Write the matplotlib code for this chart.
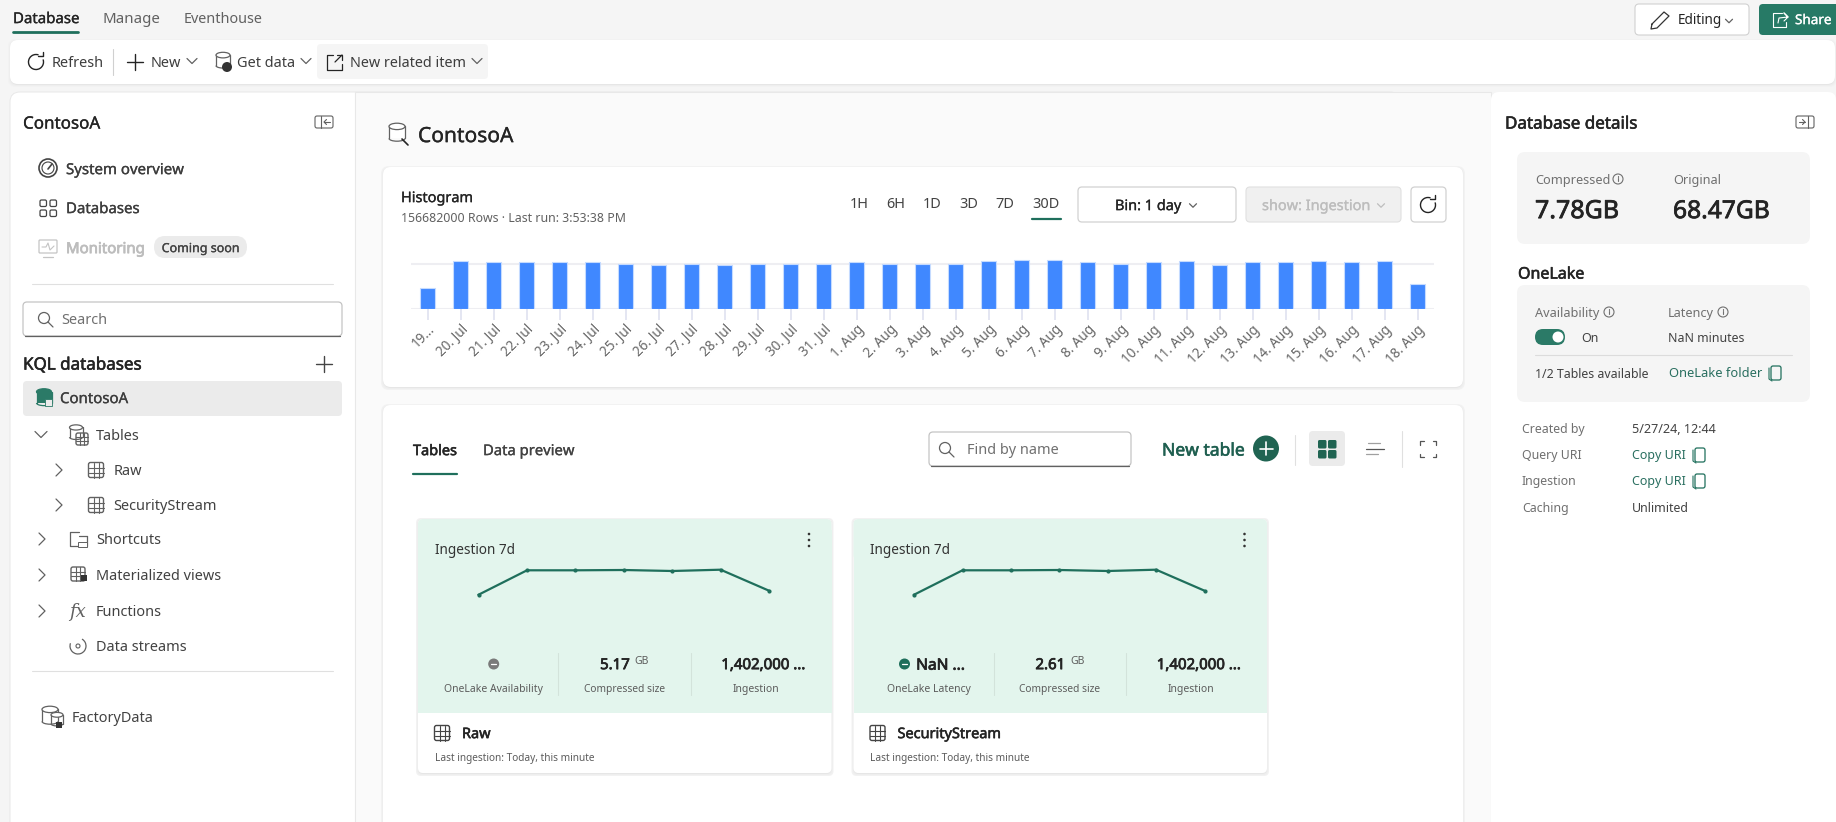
import matplotlib
matplotlib.use("Agg")
import matplotlib.pyplot as plt
import matplotlib.patheffects as pe
from matplotlib.patches import FancyBboxPatch, Circle, Rectangle, Ellipse, Arc

W, H = 1836, 822
FONT = "Noto Sans"
plt.rcParams["font.family"] = [FONT, "DejaVu Sans"]

# ---- data ----
hist_labels = ["19...", "20. Jul", "21. Jul", "22. Jul", "23. Jul", "24. Jul", "25. Jul", "26. Jul",
               "27. Jul", "28. Jul", "29. Jul", "30. Jul", "31. Jul", "1. Aug", "2. Aug", "3. Aug",
               "4. Aug", "5. Aug", "6. Aug", "7. Aug", "8. Aug", "9. Aug", "10. Aug", "11. Aug",
               "12. Aug", "13. Aug", "14. Aug", "15. Aug", "16. Aug", "17. Aug", "18. Aug"]
hist_values = [2.37, 5.3, 5.18, 5.18, 5.18, 5.18, 5.04, 4.93, 5.04, 4.93, 5.04, 5.04, 5.04, 5.18, 5.04, 5.04,
               5.04, 5.3, 5.4, 5.4, 5.18, 5.04, 5.18, 5.3, 4.93, 5.18, 5.18, 5.3, 5.18, 5.3, 2.74]
hist_gridlines = [0, 5]
ingestion_days = [0, 1, 2, 3, 4, 5, 6]
ingestion_raw = [5.3, 29.7, 29.7, 30.0, 29.0, 30.3, 9.3]
ingestion_stream = [5.3, 29.7, 29.7, 30.0, 29.0, 30.3, 9.3]
time_ranges = ["1H", "6H", "1D", "3D", "7D", "30D"]

GREEN = "#1f6f5c"
DARK = "#242424"
MID = "#616161"
GREY = "#707070"
STROKE = {"medium": 0.2, "semibold": 0.4, "bold": 0.55}

fig = plt.figure(figsize=(W / 100, H / 100), dpi=100, facecolor="#f5f5f5")
ui = fig.add_axes([0, 0, 1, 1])
ui.set_xlim(0, W)
ui.set_ylim(H, 0)
ui.axis("off")


def px_axes(x0, y0, x1, y1):
    ax = fig.add_axes([x0 / W, 1 - y1 / H, (x1 - x0) / W, (y1 - y0) / H])
    ax.patch.set_alpha(0)
    return ax


def T(x, y, s, px=15, c=DARK, w="normal", ha="left", **kw):
    t = ui.text(x, y + 1.6, s, fontsize=px * 0.72, color=c, ha=ha, va="center", **kw)
    if w in STROKE:
        t.set_path_effects([pe.withStroke(linewidth=STROKE[w], foreground=c)])
    return t


def box(x0, y0, x1, y1, r=4, fc="white", ec="none", lw=0, z=1):
    p = FancyBboxPatch((x0 + r, y0 + r), x1 - x0 - 2 * r, y1 - y0 - 2 * r,
                       boxstyle=f"round,pad={r},rounding_size={r}", fc=fc, ec=ec, lw=lw, zorder=z)
    ui.add_patch(p)
    return p


def card(x0, y0, x1, y1, r=6, z=1):
    for d, col in ((3, "#f2f2f2"), (2, "#eeeeee"), (1, "#e6e6e6")):
        box(x0 - d + 1, y0 - d + 2, x1 + d - 1, y1 + d, r=r, fc=col, z=z)
    box(x0, y0, x1, y1, r=r, z=z + 0.1)


def L(xs, ys, c=DARK, lw=1.0, z=5, **kw):
    ui.plot(xs, ys, color=c, lw=lw, zorder=z, solid_capstyle="round", **kw)


def chev(x, y, d="down", s=5, c=MID, lw=0.9):
    if d == "down":
        L([x - s, x, x + s], [y - s / 2, y + s / 2, y - s / 2], c, lw)
    else:
        L([x - s / 2, x + s / 2, x - s / 2], [y - s, y, y + s], c, lw)


def grid_icon(x, y, s=8, c=MID):
    box(x - s, y - s, x + s, y + s, r=2, fc="none", ec=c, lw=1, z=5)
    for f in (-1 / 3, 1 / 3):
        L([x - s, x + s], [y + f * s, y + f * s], c, 0.8)
        L([x + f * s, x + f * s], [y - s, y + s], c, 0.8)


def info(x, y, c=GREY):
    ui.add_patch(Circle((x, y), 5, fc="none", ec=c, lw=0.8, zorder=5))
    L([x, x], [y - 0.5, y + 2.5], c, 0.8)
    L([x, x], [y - 2.5, y - 2.3], c, 0.8)


def copy_icon(x, y, c=GREEN):
    box(x - 4, y - 7, x + 6, y + 7, r=2, fc="none", ec=c, lw=0.9, z=5)
    L([x - 6, x - 6, x - 3], [y - 5, y + 6, y + 8], c, 0.8)


def db(x, y, s=8, fc="none", ec=MID):
    bg = "white" if fc == "none" else fc
    ui.add_patch(Rectangle((x - s, y - s * 0.7), 2 * s, 1.5 * s, fc=bg, ec="none", zorder=4.9))
    L([x - s, x - s], [y - s * 0.7, y + s * 0.8], ec, 0.9)
    L([x + s, x + s], [y - s * 0.7, y + s * 0.8], ec, 0.9)
    ui.add_patch(Arc((x, y + s * 0.8), 2 * s, s * 0.7, theta1=0, theta2=180, ec=ec, lw=0.9, zorder=5))
    ui.add_patch(Ellipse((x, y - s * 0.7), 2 * s, s * 0.8, fc=bg, ec=ec, lw=0.9, zorder=6))


def plus(x, y, s=8, c=DARK, lw=1.0):
    L([x - s, x + s], [y, y], c, lw)
    L([x, x], [y - s, y + s], c, lw)


def search(x, y, c=MID):
    ui.add_patch(Circle((x - 1, y - 1), 5.5, fc="none", ec=c, lw=0.9, zorder=5))
    L([x + 3, x + 8], [y + 3, y + 8], c, 0.9)


def refresh(x, y, c=DARK):
    ui.add_patch(Arc((x, y), 15, 15, theta1=-20, theta2=290, ec=c, lw=1.0, zorder=5))
    L([x + 1.5, x + 6.5, x + 6.5], [y - 5.5, y - 5.5, y - 10], c, 1.0)


def panel_icon(x0, y0, x1, y1, bar, a0, a1):
    box(x0, y0, x1, y1, r=2, fc="none", ec=MID, lw=0.8, z=5)
    L([bar, bar], [y0, y1], MID, 0.8)
    ym = (y0 + y1) / 2
    sgn = 1 if a1 > a0 else -1
    L([a0, a1], [ym, ym], MID, 0.8)
    L([a1 - sgn * 2.5, a1, a1 - sgn * 2.5], [ym - 2.5, ym, ym + 2.5], MID, 0.8)


# ---- top tabs ----
T(13, 18, "Database", 15, DARK, "medium")
L([13, 78], [32, 32], GREEN, 2)
T(103, 18, "Manage", 15, MID)
T(184, 18, "Eventhouse", 14.4, MID)
box(1635, 4, 1749, 35, r=4, fc="white", ec="#d1d1d1", lw=0.8)
L([1652, 1664, 1669, 1657, 1651, 1652], [24, 12, 16, 28, 29, 24], "#333333", 0.9)
T(1678, 19, "Editing", 13.5, DARK)
chev(1729, 21, s=3.5)
box(1759, 4, 1840, 35, r=4, fc="#277a66")
L([1782, 1773, 1773, 1786, 1786], [13, 13, 27, 27, 22], "white", 0.8)
L([1778, 1779, 1788, 1784, 1788, 1784], [23, 18, 17, 13, 17, 21], "white", 0.8)
T(1795, 19, "Share", 13.5, "white", "medium")

# ---- toolbar ----
card(10, 40, 1835, 84, r=8)
refresh(36, 62)
T(52, 62, "Refresh", 14.5, "#3d3d3d")
L([113, 113], [49, 75], "#d0d0d0", 0.8)
plus(135, 62, 8)
T(151, 62, "New", 14.5, "#3d3d3d")
chev(192, 61)
db(223, 60, 7)
ui.add_patch(Circle((227, 67), 5, fc="#333333", zorder=7))
T(237, 62, "Get data", 14.5, "#3d3d3d")
chev(306, 61)
box(317, 44, 488, 79, r=4, fc="#f5f5f5", z=2)
L([333, 327, 327, 342, 342], [55, 55, 70, 70, 64], DARK, 0.9)
L([335, 342], [62, 55], DARK, 0.9)
L([337, 342, 342], [55, 55, 60], DARK, 0.9)
T(350, 62, "New related item", 14.4, "#3d3d3d", zorder=5)
chev(477, 61)

# ---- panels ----
box(10, 92, 1400, 840, r=10, fc="white", ec="#e8e8e8", lw=0.7)
ui.add_patch(Rectangle((355, 92), 1136, 740, fc="#fafafa", ec="#e8e8e8", lw=0.8, zorder=1.5))

# ---- left panel ----
T(23, 123, "ContosoA", 17, DARK, "medium")
panel_icon(315, 116, 333, 128, 321, 330, 324)
ui.add_patch(Circle((48, 168), 9, fc="none", ec="#444444", lw=1.2, zorder=5))
ui.add_patch(Circle((48, 168), 6, fc="none", ec="#444444", lw=0.8, zorder=5))
L([48, 52], [169, 164], "#444444", 1.2)
T(66, 169, "System overview", 15, "#3d3d3d", "medium")
for dx, dy in ((40, 200), (50, 200), (40, 210), (50, 210)):
    box(dx, dy, dx + 6.5, dy + 6.5, r=1.5, fc="none", ec="#444444", lw=0.9, z=5)
T(66, 208, "Databases", 15, "#3d3d3d", "medium")
box(39, 240, 57, 253, r=1, fc="none", ec="#c4c4c4", lw=0.9, z=5)
L([42, 46, 48, 50, 54], [247, 247, 243, 250, 246], "#c4c4c4", 0.8)
L([43, 53], [257, 257], "#c4c4c4", 0.9)
T(66, 248, "Monitoring", 15, "#bdbdbd", "bold")
box(154, 236, 247, 258, r=11, fc="#ebebeb")
T(200.5, 247, "Coming soon", 12.5, "#424242", "medium", ha="center", zorder=5)
L([32, 333], [284, 284], "#e0e0e0", 0.8)
box(23, 302, 342, 336, r=4, fc="white", ec="#c4c4c4", lw=0.9, z=3)
L([25, 340], [336, 336], "#616161", 0.9)
search(45, 319)
T(61, 319, "Search", 14.5, GREY, zorder=5)
T(23, 364, "KQL databases", 17, DARK, "semibold")
plus(324, 364, 8, "#444444")
box(23, 381, 342, 416, r=4, fc="#ebebeb", z=2)
db(44, 397, 7.5, fc="#2b7a67", ec="#2b7a67")
ui.add_patch(Rectangle((45, 399), 7, 7, fc="#ebebeb", ec="#2b7a67", lw=0.6, zorder=7))
T(60, 398, "ContosoA", 15, "#3d3d3d", "medium", zorder=5)

chev(41, 434.5, s=6)
db(76, 432, 6.5)
grid_icon(82, 439, 6)
T(96, 435, "Tables", 14.5, "#424242")
chev(59, 470, "right", 6)
grid_icon(96, 470, 7.5)
T(114, 470, "Raw", 14.5, "#424242")
chev(59, 505, "right", 6)
grid_icon(96, 505, 7.5)
T(113, 505, "SecurityStream", 14.5, "#424242")
chev(42, 539, "right", 6)
L([79, 70, 70, 87, 87], [532, 532, 546, 546, 536], MID, 0.9)
L([79, 87], [536, 536], MID, 0.9)
ui.add_patch(Rectangle((78, 542), 9, 5, fc="white", ec=MID, lw=0.7, zorder=6))
T(96, 539, "Shortcuts", 14.5, "#424242")
chev(42, 575, "right", 6)
grid_icon(78, 574, 7)
ui.add_patch(Rectangle((81, 575), 6, 6, fc="#333333", zorder=6))
T(96, 575, "Materialized views", 14.5, "#424242")
chev(42, 611, "right", 6)
ui.text(77, 612, "fx", fontsize=13, style="italic", color=MID, ha="center", va="center", family="DejaVu Serif")
T(96, 611, "Functions", 14.5, "#424242")
ui.add_patch(Arc((78, 646), 16, 16, theta1=-60, theta2=200, ec=MID, lw=0.9, zorder=5))
ui.add_patch(Circle((78, 646), 2, fc="none", ec=MID, lw=0.8, zorder=5))
T(96, 646, "Data streams", 14.5, "#424242")
L([32, 333], [671, 671], "#e0e0e0", 0.8)
db(50, 715, 8)
db(57, 719, 6)
ui.add_patch(Rectangle((56, 722), 6, 6, fc="#333333", zorder=7))
T(72, 717, "FactoryData", 14.5, "#424242")

# ---- centre ----
db(397, 132, 8)
L([402, 408], [139, 145], DARK, 1.2)
T(418, 135, "ContosoA", 21, DARK, "medium", zorder=5)

card(383, 167, 1463, 387, r=8, z=2)
T(401, 197, "Histogram", 14.5, DARK, "medium", zorder=5)
T(401, 217, "156682000 Rows · Last run: 3:53:38 PM", 12.3, MID, zorder=5)
for cx, s in zip([859, 896, 932, 969, 1005, 1046], time_ranges):
    T(cx, 203, s, 14.5, "#424242", ha="center", zorder=5)
L([1032, 1061], [219.5, 219.5], GREEN, 1.6)
box(1078, 187, 1236, 222, r=4, fc="white", ec="#d1d1d1", lw=0.9, z=3)
T(1148, 205, "Bin: 1 day", 14.5, DARK, "medium", ha="center", zorder=5)
chev(1193, 205.5, s=3.5)
box(1246, 187, 1401, 222, r=4, fc="#f0f0f0", ec="#e0e0e0", lw=0.8, z=3)
T(1316, 205, "show: Ingestion", 14.5, "#bdbdbd", "medium", ha="center", zorder=5)
chev(1381, 205.5, s=3.5, c="#bdbdbd")
box(1411, 187, 1446, 222, r=4, fc="white", ec="#d1d1d1", lw=0.9, z=3)
refresh(1428, 205)

hist = px_axes(411, 255, 1434, 309)
hist.bar(range(len(hist_values)), hist_values, width=0.47, color="#4088ff", edgecolor="#c5dbff", linewidth=0.8, zorder=3)
hist.set_xlim(-0.5, len(hist_values) - 0.5)
hist.set_ylim(0, 6)
hist.set_yticks(hist_gridlines)
hist.set_yticklabels([])
hist.tick_params(axis="y", length=0)
hist.grid(axis="y", color="#eeeef2", lw=1.5, zorder=0)
hist.set_axisbelow(True)
hist.set_xticks(range(len(hist_labels)))
hist.set_xticklabels(hist_labels, rotation=45, ha="right", rotation_mode="anchor", fontsize=13.5 * 0.72, color="#666666")
hist.tick_params(axis="x", length=8, width=1.4, color="#e4e6f2", pad=1.5)
for sp in hist.spines.values():
    sp.set_visible(False)

card(383, 405, 1463, 840, r=8, z=2)
T(413, 450, "Tables", 14.5, DARK, "semibold", zorder=5)
L([413, 457], [473.5, 473.5], GREEN, 1.6)
T(483, 450, "Data preview", 14.8, "#424242", "medium", zorder=5)
box(929, 432, 1131, 466, r=4, fc="white", ec="#c4c4c4", lw=0.9, z=3)
L([931, 1129], [466, 466], "#616161", 0.9)
search(946, 449)
T(967, 449, "Find by name", 14.5, GREY, zorder=5)
T(1162, 449, "New table", 17.5, "#1f5f50", "semibold", zorder=5)
ui.add_patch(Circle((1266, 448.5), 13, fc="#206452", zorder=5))
plus(1266, 448.5, 6.5, "white", 1.2)
L([1295, 1295], [435, 465], "#e0e0e0", 0.8)
box(1309, 431, 1345, 466, r=4, fc="#ebebeb", z=3)
for dx, dy in ((1318, 440), (1328, 440), (1318, 450), (1328, 450)):
    box(dx, dy, dx + 8.5, dy + 8.5, r=1.5, fc="#206452", z=5)
L([1368, 1380], [443, 443], "#a0a0a0", 0.9)
L([1366, 1384], [448.5, 448.5], "#555555", 0.9)
L([1366, 1378], [454, 454], "#a0a0a0", 0.9)
L([1402, 1402], [431, 467], "#e0e0e0", 0.8)
for sx, sy in ((-1, -1), (1, -1), (-1, 1), (1, 1)):
    cx, cy = 1428 + sx * 8, 449 + sy * 8
    L([cx, cx, cx - sx * 3.5], [cy - sy * 3.5, cy, cy], "#555555", 0.9)


def table_card(dx, values, status_text, status_label, size, name):
    x0 = 417.5 + dx
    card(x0 + 0.5, 519, x0 + 414, 773, r=5, z=3)
    box(x0 + 0.5, 519, x0 + 414, 560, r=5, fc="#e3f5ed", z=3.2)
    ui.add_patch(Rectangle((x0 + 0.5, 530), 413.5, 183, fc="#e3f5ed", zorder=3.2))
    T(x0 + 17.5, 549, "Ingestion 7d", 13.6, "#333333", zorder=5)
    for yy in (534, 540, 546):
        ui.add_patch(Circle((809 + dx, yy), 1.3, fc="#333333", zorder=5))
    ax = px_axes(478.6 + dx, 560, 769 + dx, 600)
    ax.plot(ingestion_days, values, color=GREEN, lw=1.6, marker="o", ms=2.0, clip_on=False, zorder=6)
    ax.set_xlim(0, 6)
    ax.set_ylim(0, 40)
    ax.axis("off")
    L([558 + dx, 558 + dx], [653, 695], "#d3e3db", 0.8)
    L([690.7 + dx, 690.7 + dx], [653, 695], "#d3e3db", 0.8)
    if status_text is None:
        ui.add_patch(Circle((493.7 + dx, 664), 5.5, fc="#7a7a7a", zorder=5))
        L([491 + dx, 496.4 + dx], [664, 664], "white", 0.9, z=6)
    else:
        ui.add_patch(Circle((469 + dx, 664), 5.5, fc=GREEN, zorder=5))
        L([466.5 + dx, 471.5 + dx], [664, 664], "white", 0.9, z=6)
        T(505 + dx, 664, status_text, 15.5, DARK, "bold", ha="center", zorder=5)
    T(493.6 + dx, 688, status_label, 10.4, "#5c5c5c", ha="center", zorder=5)
    T(615 + dx, 664, size, 15, DARK, "bold", ha="center", zorder=5)
    T(642 + dx, 660, "GB", 10.5, "#5c5c5c", ha="center", zorder=5)
    T(624.5 + dx, 688, "Compressed size", 10.2, "#5c5c5c", ha="center", zorder=5)
    T(763.6 + dx, 664, "1,402,000 ...", 15, DARK, "bold", ha="center", zorder=5)
    T(755.5 + dx, 688, "Ingestion", 10.4, "#5c5c5c", ha="center", zorder=5)
    grid_icon(442 + dx, 733, 7.5, c="#444444")
    T(462 + dx, 733, name, 14.5, DARK, "semibold", zorder=5)
    T(435 + dx, 757, "Last ingestion: Today, this minute", 10.1, "#5c5c5c", zorder=5)


table_card(0, ingestion_raw, None, "OneLake Availability", "5.17", "Raw")
table_card(435.5, ingestion_stream, "NaN ...", "OneLake Latency", "2.61", "SecurityStream")

# ---- right panel ----
box(1491, 92, 1836, 840, r=8, fc="white", ec="none", z=1.6)
T(1505, 123, "Database details", 17, DARK, "semibold", zorder=5)
panel_icon(1796, 116, 1814, 128, 1808, 1799, 1805)
box(1517, 152, 1810, 244, r=8, fc="#f5f5f5", z=2)
T(1535, 179, "Compressed", 12.7, GREY, zorder=5)
info(1618, 179)
T(1673, 179, "Original", 12.7, GREY, zorder=5)
T(1535, 210, "7.78GB", 25, DARK, "bold", zorder=5)
T(1673, 210, "68.47GB", 24.6, DARK, "bold", zorder=5)
T(1518, 273, "OneLake", 16, DARK, "semibold", zorder=5)
box(1517, 285, 1810, 402, r=8, fc="#f5f5f5", z=2)
T(1535, 312, "Availability", 12.7, GREY, zorder=5)
info(1609, 312)
T(1668, 312, "Latency", 12.7, GREY, zorder=5)
info(1723, 312)
box(1535, 329, 1565, 345, r=8, fc="#2b7a67", z=5)
ui.add_patch(Circle((1558, 337), 5.5, fc="white", zorder=6))
T(1581, 336.5, "On", 12.5, "#424242", zorder=5)
T(1668, 336.5, "NaN minutes", 12.3, "#424242", zorder=5)
L([1535, 1792], [355, 355], "#dcdcdc", 0.8)
T(1535, 373, "1/2 Tables available", 12.3, "#424242", zorder=5)
T(1669, 372, "OneLake folder", 12.9, "#2a6f60", zorder=5)
copy_icon(1775, 373)
for yy, lab in zip((428, 454, 480, 507), ("Created by", "Query URI", "Ingestion", "Caching")):
    T(1522, yy, lab, 12.3, GREY, zorder=5)
T(1632, 428, "5/27/24, 12:44", 12.6, "#424242", zorder=5)
T(1632, 454, "Copy URI", 12.5, "#2a6f60", zorder=5)
T(1632, 480, "Copy URI", 12.5, "#2a6f60", zorder=5)
T(1632, 507, "Unlimited", 12.4, "#424242", zorder=5)
copy_icon(1699, 455)
copy_icon(1699, 481)

fig.savefig("out.png", dpi=100, facecolor=fig.get_facecolor())
